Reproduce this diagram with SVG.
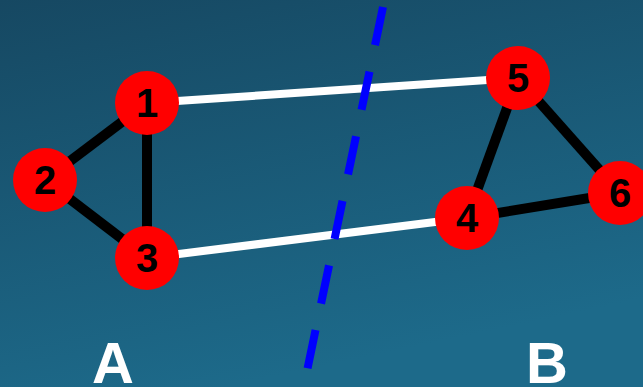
<svg xmlns="http://www.w3.org/2000/svg" width="643" height="387" viewBox="0 0 643 387">
  <defs>
    <linearGradient id="bg" x1="0" y1="0" x2="0.35" y2="1">
      <stop offset="0" stop-color="#164862"/>
      <stop offset="1" stop-color="#1d6a8a"/>
    </linearGradient>
  </defs>
  <style>
    .node circle { fill: #ff0000; }
    .node text { font-family: "Liberation Sans", Arial, sans-serif; font-weight: bold; font-size: 40px; fill: #000; text-anchor: middle; }
    .edge-dark { stroke: #000; stroke-width: 10; }
    .edge-light { stroke: #fff; stroke-width: 8; }
    .cut { stroke: #0000ff; stroke-width: 8; stroke-dasharray: 39 27; fill: none; }
    .side { font-family: "Liberation Sans", Arial, sans-serif; font-weight: bold; font-size: 58px; fill: #fff; text-anchor: middle; }
  </style>

  <rect width="643" height="387" fill="url(#bg)"/>

  <g id="connectors">
    <line class="edge-dark" x1="147" y1="103" x2="45" y2="180"/>
    <line class="edge-dark" x1="147" y1="103" x2="147" y2="258"/>
    <line class="edge-dark" x1="45" y1="180" x2="147" y2="258"/>
    <line class="edge-dark" x1="518" y1="78" x2="467" y2="218"/>
    <line class="edge-dark" x1="518" y1="78" x2="620" y2="193"/>
    <line class="edge-dark" x1="467" y1="218" x2="620" y2="193"/>
    <line class="edge-light" x1="147" y1="103" x2="518" y2="78"/>
    <line class="edge-light" x1="147" y1="258" x2="467" y2="218"/>
  </g>

  <line id="cut-line" class="cut" x1="383" y1="7" x2="307" y2="371"/>

  <g id="node-1" class="node"><circle cx="147" cy="103" r="32"/><text x="147" y="117">1</text></g>
  <g id="node-2" class="node"><circle cx="45" cy="180" r="32"/><text x="45" y="194">2</text></g>
  <g id="node-3" class="node"><circle cx="147" cy="258" r="32"/><text x="147" y="272">3</text></g>
  <g id="node-4" class="node"><circle cx="467" cy="218" r="32"/><text x="467" y="232">4</text></g>
  <g id="node-5" class="node"><circle cx="518" cy="78" r="32"/><text x="518" y="92">5</text></g>
  <g id="node-6" class="node"><circle cx="620" cy="193" r="32"/><text x="620" y="207">6</text></g>

  <text class="side" x="113" y="383">A</text>
  <text class="side" x="547" y="383">B</text>
</svg>
